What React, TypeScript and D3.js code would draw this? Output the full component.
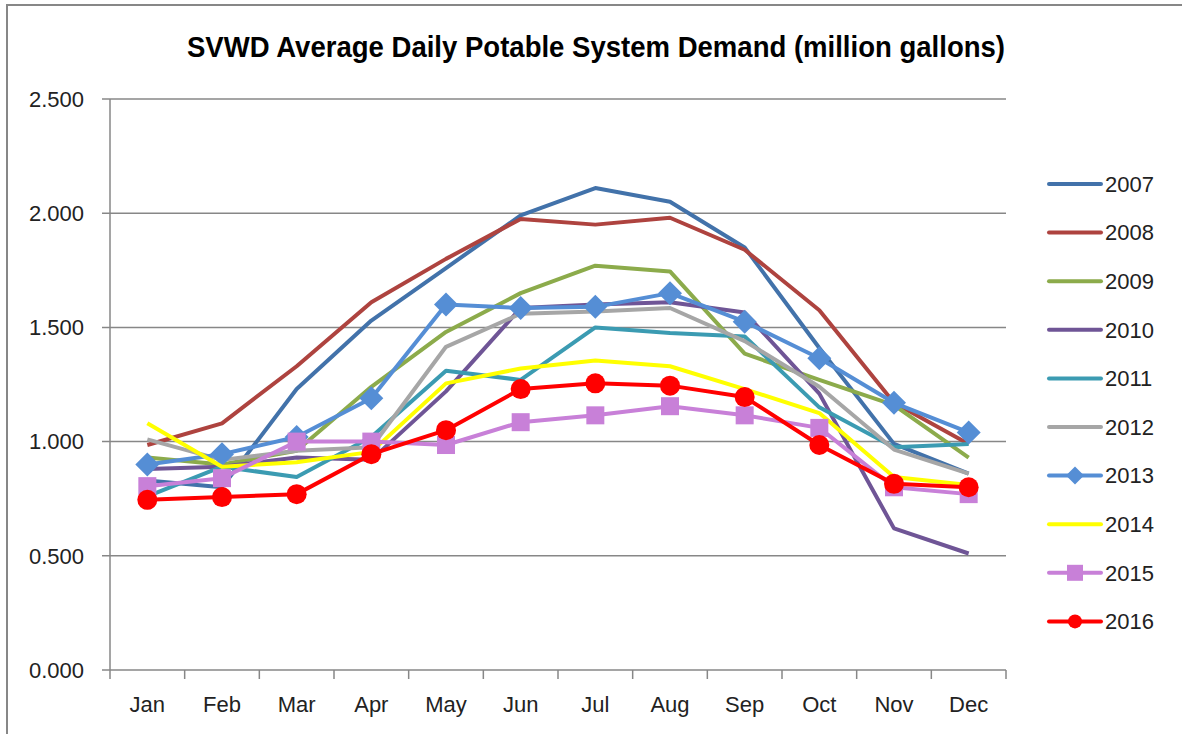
import React, { useEffect, useRef } from 'react'
import * as d3 from 'd3'

const months = ['Jan', 'Feb', 'Mar', 'Apr', 'May', 'Jun', 'Jul', 'Aug', 'Sep', 'Oct', 'Nov', 'Dec']
const yTicks = [0, 0.5, 1, 1.5, 2, 2.5]

const d2007 = [0.83, 0.8, 1.23, 1.53, 1.76, 1.99, 2.11, 2.05, 1.85, 1.41, 0.99, 0.86]
const d2008 = [0.985, 1.08, 1.33, 1.61, 1.8, 1.975, 1.95, 1.98, 1.84, 1.575, 1.17, 0.99]
const d2009 = [0.93, 0.9, 0.96, 1.24, 1.48, 1.65, 1.77, 1.745, 1.385, 1.27, 1.16, 0.93]
const d2010 = [0.88, 0.89, 0.93, 0.92, 1.22, 1.585, 1.6, 1.61, 1.565, 1.21, 0.62, 0.51]
const d2011 = [0.76, 0.89, 0.845, 1.02, 1.31, 1.27, 1.5, 1.475, 1.46, 1.15, 0.975, 0.99]
const d2012 = [1.01, 0.92, 0.96, 0.975, 1.415, 1.56, 1.57, 1.585, 1.44, 1.24, 0.965, 0.86]
const d2013 = [0.9, 0.945, 1.02, 1.19, 1.6, 1.585, 1.59, 1.65, 1.525, 1.365, 1.17, 1.04]
const d2014 = [1.08, 0.89, 0.91, 0.955, 1.255, 1.32, 1.355, 1.33, 1.23, 1.125, 0.845, 0.81]
const d2015 = [0.805, 0.84, 1.0, 1.0, 0.985, 1.085, 1.115, 1.155, 1.115, 1.06, 0.8, 0.77]
const d2016 = [0.745, 0.757, 0.77, 0.945, 1.05, 1.23, 1.255, 1.245, 1.195, 0.985, 0.815, 0.8]

const series = [
  { name: '2007', values: d2007, color: '#4272AA', marker: 'none' },
  { name: '2008', values: d2008, color: '#AE433F', marker: 'none' },
  { name: '2009', values: d2009, color: '#8CAB4B', marker: 'none' },
  { name: '2010', values: d2010, color: '#6F5596', marker: 'none' },
  { name: '2011', values: d2011, color: '#3B9BB2', marker: 'none' },
  { name: '2012', values: d2012, color: '#A6A6A6', marker: 'none' },
  { name: '2013', values: d2013, color: '#558ED5', marker: 'diamond' },
  { name: '2014', values: d2014, color: '#FFFF00', marker: 'none' },
  { name: '2015', values: d2015, color: '#C880D8', marker: 'square' },
  { name: '2016', values: d2016, color: '#FF0000', marker: 'circle' },
]

const FONT = '"Liberation Sans", Arial, sans-serif'
const GRID = '#878787'

function drawMarker(g, type, x, y, color, size) {
  if (type === 'diamond') {
    g.append('path')
      .attr('d', `M${x},${y - size}L${x + size},${y}L${x},${y + size}L${x - size},${y}Z`)
      .attr('fill', color)
  } else if (type === 'square') {
    g.append('rect')
      .attr('x', x - size)
      .attr('y', y - size)
      .attr('width', size * 2)
      .attr('height', size * 2)
      .attr('fill', color)
  } else if (type === 'circle') {
    g.append('circle').attr('cx', x).attr('cy', y).attr('r', size).attr('fill', color)
  }
}

function Chart() {
  const ref = useRef(null)

  useEffect(() => {
    const svg = d3.select(ref.current)
    svg.selectAll('*').remove()

    const left = 110
    const right = 1006
    const top = 99
    const bottom = 670

    const x = d3.scaleBand().domain(months).range([left, right])
    const y = d3.scaleLinear().domain([0, 2.5]).range([bottom, top])
    const cx = m => x(m) + x.bandwidth() / 2

    // outer frame
    svg.append('rect')
      .attr('x', 7)
      .attr('y', 5)
      .attr('width', 1300)
      .attr('height', 900)
      .attr('fill', 'white')
      .attr('stroke', GRID)
      .attr('stroke-width', 2)

    svg.append('text')
      .attr('x', 596)
      .attr('y', 57)
      .attr('text-anchor', 'middle')
      .attr('font-family', FONT)
      .attr('font-weight', 'bold')
      .attr('font-size', 29)
      .attr('textLength', 818)
      .attr('lengthAdjust', 'spacingAndGlyphs')
      .attr('fill', '#000')
      .text('SVWD Average Daily Potable System Demand (million gallons)')

    // gridlines + y ticks
    yTicks.forEach(t => {
      svg.append('line')
        .attr('x1', left - 8)
        .attr('x2', right)
        .attr('y1', y(t))
        .attr('y2', y(t))
        .attr('stroke', GRID)
        .attr('stroke-width', 1.5)
      svg.append('text')
        .attr('x', 84)
        .attr('y', y(t))
        .attr('dy', '0.35em')
        .attr('text-anchor', 'end')
        .attr('font-family', FONT)
        .attr('font-size', 22)
        .attr('fill', '#222')
        .text(d3.format('.3f')(t))
    })

    svg.append('line')
      .attr('x1', left)
      .attr('x2', left)
      .attr('y1', top)
      .attr('y2', bottom)
      .attr('stroke', GRID)
      .attr('stroke-width', 1.5)

    // x ticks
    months.concat(['end']).forEach((m, i) => {
      const xx = i < months.length ? x(m) : right
      svg.append('line')
        .attr('x1', xx)
        .attr('x2', xx)
        .attr('y1', bottom)
        .attr('y2', bottom + 9)
        .attr('stroke', GRID)
        .attr('stroke-width', 1.5)
    })
    months.forEach(m => {
      svg.append('text')
        .attr('x', cx(m))
        .attr('y', 712)
        .attr('text-anchor', 'middle')
        .attr('font-family', FONT)
        .attr('font-size', 22)
        .attr('fill', '#222')
        .text(m)
    })

    const line = d3
      .line()
      .x((d, i) => cx(months[i]))
      .y(d => y(d))

    series.forEach(s => {
      const g = svg.append('g')
      g.append('path')
        .attr('d', line(s.values))
        .attr('fill', 'none')
        .attr('stroke', s.color)
        .attr('stroke-width', 4)
        .attr('stroke-linejoin', 'round')
      const sz = s.marker === 'diamond' ? 12 : s.marker === 'square' ? 9 : 10
      s.values.forEach((v, i) => drawMarker(g, s.marker, cx(months[i]), y(v), s.color, sz))
    })

    // legend
    const lg = svg.append('g')
    series.forEach((s, i) => {
      const ly = 184 + i * 48.6
      lg.append('line')
        .attr('x1', 1049)
        .attr('x2', 1101)
        .attr('y1', ly)
        .attr('y2', ly)
        .attr('stroke', s.color)
        .attr('stroke-width', 4)
        .attr('stroke-linecap', 'round')
      const sz = s.marker === 'diamond' ? 9 : s.marker === 'square' ? 8 : 7
      drawMarker(lg, s.marker, 1075, ly, s.color, sz)
      lg.append('text')
        .attr('x', 1105)
        .attr('y', ly)
        .attr('dy', '0.35em')
        .attr('font-family', FONT)
        .attr('font-size', 22)
        .attr('fill', '#222')
        .text(s.name)
    })
  }, [])

  return (
    <svg
      width="1182"
      height="734"
      ref={ref}
      style={{ position: 'absolute', left: 0, top: 0, display: 'block' }}
    />
  )
}

export default function App() {
  return <Chart />
}
